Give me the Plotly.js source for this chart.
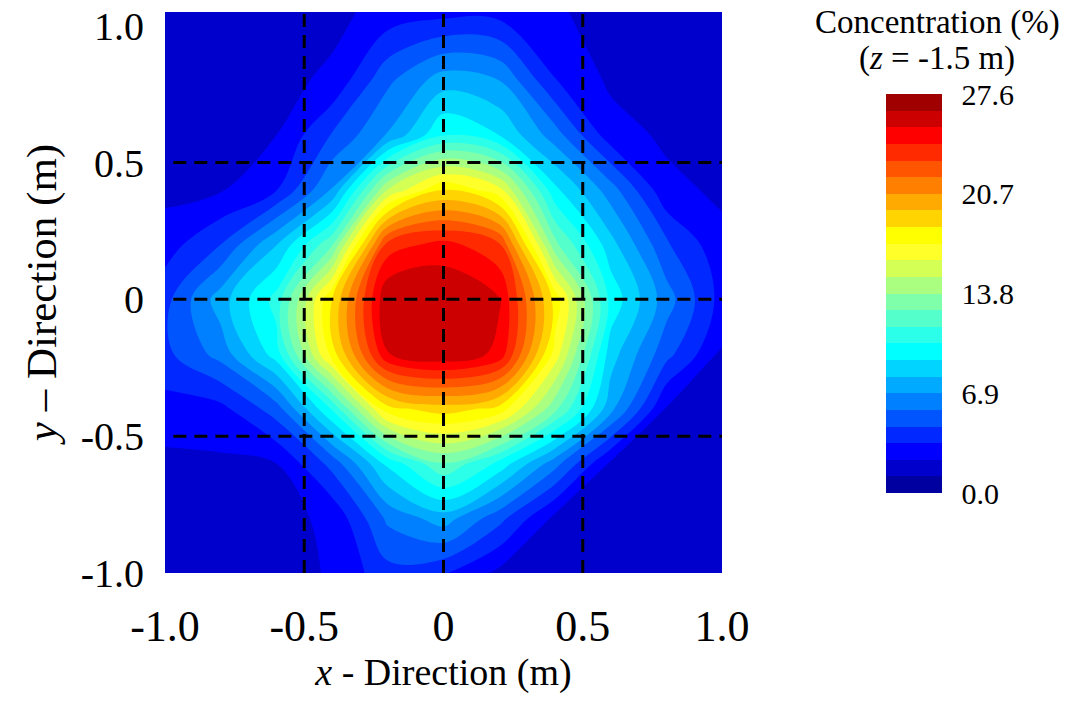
<!DOCTYPE html>
<html>
<head>
<meta charset="utf-8">
<script src="https://cdn.plot.ly/plotly-3.0.1.min.js"></script>
<style>
  html, body { margin: 0; padding: 0; background: #fff; }
</style>
</head>
<body>
<div id="myDiv" style="width:1083px;height:713px"></div>
<script>
// sample positions of the measured map (m)
var xGrid = [-1, -0.8, -0.6, -0.4, -0.2, 0, 0.2, 0.4, 0.6, 0.8, 1];
var yGrid = [-1, -0.8, -0.6, -0.4, -0.2, 0, 0.2, 0.4, 0.6, 0.8, 1.05];

// concentration (%) at z = -1.5 m, one row per yGrid value (bottom to top)
var concentration = [
    [1.7, 1.8, 1.9, 2.4, 4.2, 3.6, 2.0, 1.8, 1.7, 1.7, 1.6],
    [1.8, 1.9, 2.0, 2.5, 6.0, 7.5, 5.0, 2.0, 1.8, 1.7, 1.7],
    [2.0, 2.1, 2.3, 5.0, 9.5, 12.6, 10.0, 6.2, 2.1, 1.8, 1.7],
    [3.0, 3.1, 5.2, 10.5, 18.0, 19.0, 18.0, 13.0, 7.3, 2.2, 1.9],
    [4.3, 6.2, 9.8, 17.8, 25.25, 26.3, 25.0, 16.8, 8.6, 5.0, 2.2],
    [4.2, 7.5, 10.8, 18.4, 26.4, 26.4, 25.4, 18.0, 10.0, 6.3, 3.0],
    [2.9, 4.6, 8.0, 12.5, 23.5, 24.6, 23.2, 13.0, 8.5, 4.8, 2.6],
    [2.0, 2.2, 3.4, 7.0, 15.0, 18.4, 16.5, 9.5, 6.3, 2.6, 2.1],
    [1.8, 1.9, 2.3, 4.7, 7.0, 10.3, 9.2, 6.3, 2.8, 2.1, 1.8],
    [1.7, 1.8, 2.0, 2.5, 5.5, 7.5, 6.9, 3.5, 2.1, 1.9, 1.7],
    [1.7, 1.7, 1.8, 2.0, 2.7, 3.0, 3.0, 2.4, 2.0, 1.8, 1.7]
];

// contour levels and band colours (lowest band first)
var levelStart = 0;
var levelEnd = 27.6;
var levelSize = 1.15;
var bandColors = [
    '#0000a0', '#0000cc', '#0000ff', '#0028ff', '#0055ff', '#0080ff',
    '#00aaff', '#00d4ff', '#00ffff', '#2bffea', '#55ffcc', '#80ffaa',
    '#aaff80', '#d4ff55', '#ffff2a', '#ffff00', '#ffd400', '#ffaa00',
    '#ff8000', '#ff5500', '#ff2a00', '#ff0000', '#cc0000', '#a00000'
];
var barTicks = [0, 6.9, 13.8, 20.7, 27.6];

var axisTicks = [-1, -0.5, 0, 0.5, 1];
var axisTickText = ['-1.0', '-0.5', '0', '0.5', '1.0'];
var gridPositions = [-0.5, 0, 0.5];

// stepped colour scale: one flat step per band
var colorscale = [];
for (var i = 0; i < bandColors.length; i++) {
    colorscale.push([i / bandColors.length, bandColors[i]]);
    colorscale.push([(i + 1) / bandColors.length, bandColors[i]]);
}

var serif = 'Liberation Serif, Times New Roman, serif';

var trace = {
    type: 'contour',
    x: xGrid,
    y: yGrid,
    z: concentration,
    colorscale: colorscale,
    zauto: false,
    zmin: levelStart,
    zmax: levelEnd,
    autocontour: false,
    contours: {
        start: levelStart,
        end: levelEnd,
        size: levelSize,
        coloring: 'fill',
        showlines: false
    },
    line: { width: 0 },
    hoverinfo: 'skip',
    colorbar: {
        x: 1.2944,
        xanchor: 'left',
        y: 0.498,
        yanchor: 'middle',
        len: 0.7112,
        lenmode: 'fraction',
        thickness: 56,
        thicknessmode: 'pixels',
        xpad: 0,
        ypad: 0,
        outlinewidth: 0,
        tickvals: barTicks,
        tickformat: '.1f',
        ticks: 'outside',
        ticklen: 14,
        tickcolor: 'rgba(0,0,0,0)',
        tickfont: { family: serif, size: 30, color: '#000' }
    }
};

var shapes = [];
gridPositions.forEach(function (g) {
    shapes.push({
        type: 'line', xref: 'x', yref: 'paper',
        x0: g, x1: g, y0: 0, y1: 1,
        line: { color: '#000', width: 3, dash: '13px,8px' }
    });
    shapes.push({
        type: 'line', xref: 'paper', yref: 'y',
        x0: 0.015, x1: 1, y0: g, y1: g,
        line: { color: '#000', width: 3, dash: '13px,8px' }
    });
});

var layout = {
    width: 1083,
    height: 713,
    margin: { l: 165, r: 361, t: 12, b: 140 },
    paper_bgcolor: '#fff',
    plot_bgcolor: '#fff',
    showlegend: false,
    font: { family: serif, color: '#000' },
    xaxis: {
        range: [-1, 1],
        tickvals: axisTicks,
        ticktext: axisTickText,
        showgrid: false,
        zeroline: false,
        showline: false,
        ticks: '',
        ticklabelstandoff: 23,
        tickfont: { family: serif, size: 44, color: '#000' },
        automargin: false,
        title: {
            text: '<i>x</i> - Direction (m)',
            font: { family: serif, size: 38, color: '#000' },
            standoff: 0
        }
    },
    yaxis: {
        range: [-1, 1.05],
        tickvals: axisTicks,
        ticktext: axisTickText,
        showgrid: false,
        zeroline: false,
        showline: false,
        ticks: '',
        ticklabelstandoff: 20,
        tickfont: { family: serif, size: 40, color: '#000' },
        automargin: false,
        title: {
            text: '<i>y</i> – Direction (m)',
            font: { family: serif, size: 43, color: '#000' },
            standoff: 10
        }
    },
    shapes: shapes,
    annotations: [{
        xref: 'paper', yref: 'paper',
        x: 1.386, y: 0.982,
        xanchor: 'center', yanchor: 'middle',
        showarrow: false,
        text: 'Concentration (%)',
        font: { family: serif, size: 33, color: '#000' }
    }, {
        xref: 'paper', yref: 'paper',
        x: 1.386, y: 0.918,
        xanchor: 'center', yanchor: 'middle',
        showarrow: false,
        text: '(<i>z</i> = -1.5 m)',
        font: { family: serif, size: 33, color: '#000' }
    }]
};

Plotly.newPlot('myDiv', [trace], layout, { displayModeBar: false });
</script>
</body>
</html>
